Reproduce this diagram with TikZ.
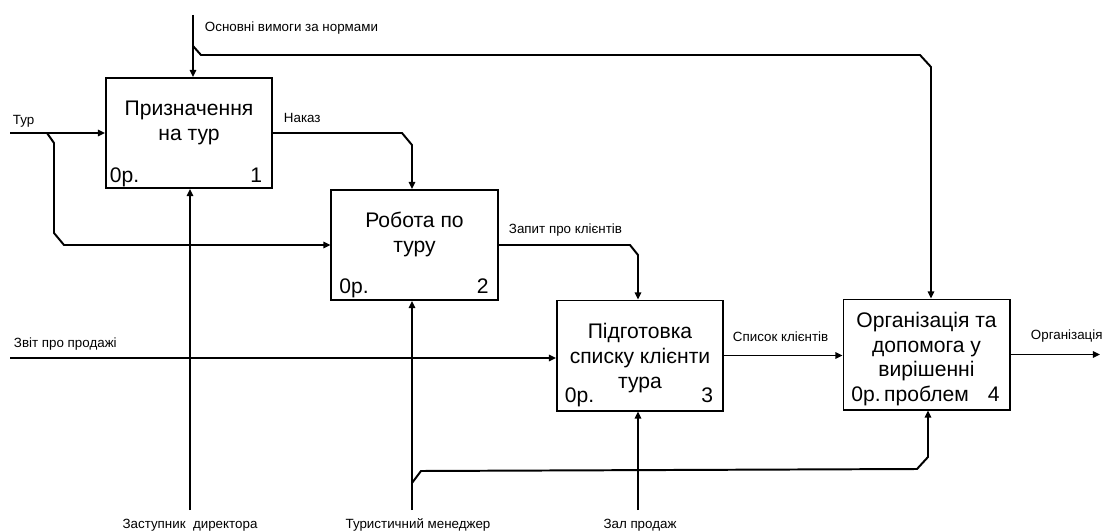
\documentclass[tikz,border=0pt]{standalone}
\usepackage{fontspec}
\setmainfont{Liberation Sans}
\usetikzlibrary{arrows.meta,positioning}

\begin{document}
\begin{tikzpicture}[x=0.025cm, y=-0.025cm, >={Triangle[length=5pt,width=4.5pt]}, line width=1.4pt,
        func/.style={draw, minimum width=4.15cm, minimum height=2.75cm, inner sep=0pt},
        boxtext/.style={align=center, inner sep=0pt, font=\fontsize{15}{17.6}\selectfont},
        tag/.style={inner sep=0pt, font=\fontsize{15}{17.6}\selectfont},
        lbl/.style={inner sep=0pt, font=\fontsize{9.5}{11}\selectfont}]
        \useasboundingbox (0,0) rectangle (1106,532);

        \node [func] (assign) at (189,133) {};
        \node [func] (work) at (414.5,245) {};
        \node [func] (list) at (640,355.5) {};
        \node [func] (org) at (926.5,354.5) {};

        \node [boxtext, anchor=north] (assignT) at (189,100) {Призначення\\на тур};
        \node [boxtext, anchor=north] (workT) at (414.5,211) {Робота по\\туру};
        \node [boxtext, anchor=north] (listT) at (640,322.5) {Підготовка\\списку клієнти\\тура};
        \node [boxtext, anchor=north] (orgT) at (926.5,311) {Організація та\\допомога у\\вирішенні\\проблем};

        \node [tag, anchor=base west] (assignL) at ([shift={(4,-6)}]assign.south west) {0р.};
        \node [tag, anchor=base east] (assignN) at ([shift={(-10,-6)}]assign.south east) {1};
        \node [tag, anchor=base west] (workL) at ([shift={(8,-7)}]work.south west) {0р.};
        \node [tag, anchor=base east] (workN) at ([shift={(-9,-7)}]work.south east) {2};
        \node [tag, anchor=base west] (listL) at ([shift={(8,-9)}]list.south west) {0р.};
        \node [tag, anchor=base east] (listN) at ([shift={(-10,-9)}]list.south east) {3};
        \node [tag, anchor=base west] (orgL) at ([shift={(8,-9)}]org.south west) {0р.};
        \node [tag, anchor=base east] (orgN) at ([shift={(-10,-9)}]org.south east) {4};

        % controls
        \coordinate (norm) at (193,15);
        \draw [->] (norm) -- (norm |- assign.north);
        \draw [->] (193,46) -- ++(8,9) -- (920,55) -- (931,67) -- (931,67 |- org.north);
        \node [lbl, anchor=base west] (normT) at (204,31.5) {Основні вимоги за нормами};

        % inputs
        \coordinate (tour) at (10,133);
        \draw [->] (tour) -- (tour -| assign.west);
        \draw [->] (47,133) -- (54,143) -- (54,233) -- (64,245) -- (64,245 -| work.west);
        \node [lbl, anchor=base west] (tourT) at (12,124) {Тур};

        \coordinate (sales) at (10,358);
        \draw [->] (sales) -- (sales -| list.west);
        \node [lbl, anchor=base west] (salesT) at (13,347.5) {Звіт про продажі};

        % outputs
        \draw [->] (assign.east) -- (402,133) -- (412,145) -- (412,145 |- work.north);
        \node [lbl, anchor=base west] (orderT) at (283,122.5) {Наказ};

        \draw [->] (work.east) -- (630,245) -- (638,255) -- (638,255 |- list.north);
        \node [lbl, anchor=base west] (queryT) at (508,233.5) {Запит про клієнтів};

        \draw [->] (list.east) -- (list.east -| org.west);
        \node [lbl, anchor=base west] (clientsT) at (732,341) {Список клієнтів};

        \coordinate (out) at (1100,354.5);
        \draw [->] (org.east) -- (org.east -| out);
        \node [lbl, anchor=base west] (outT) at (1030,339) {Організація};

        % mechanisms
        \coordinate (deputy) at (190,510);
        \draw [->] (deputy) -- (deputy |- assign.south);
        \node [lbl, anchor=base] (deputyT) at (190,528) {Заступник\ \ директора};

        \coordinate (manager) at (412,510);
        \draw [->] (manager) -- (manager |- work.south);
        \draw [->] (412,483) -- (421,471) -- (917,469) -- (928,457) -- (928,457 |- org.south);
        \node [lbl, anchor=base] (managerT) at (418,528) {Туристичний менеджер};

        \coordinate (hall) at (638,510);
        \draw [->] (hall) -- (hall |- list.south);
        \node [lbl, anchor=base] (hallT) at (640,528) {Зал продаж};
    \end{tikzpicture}
\end{document}
